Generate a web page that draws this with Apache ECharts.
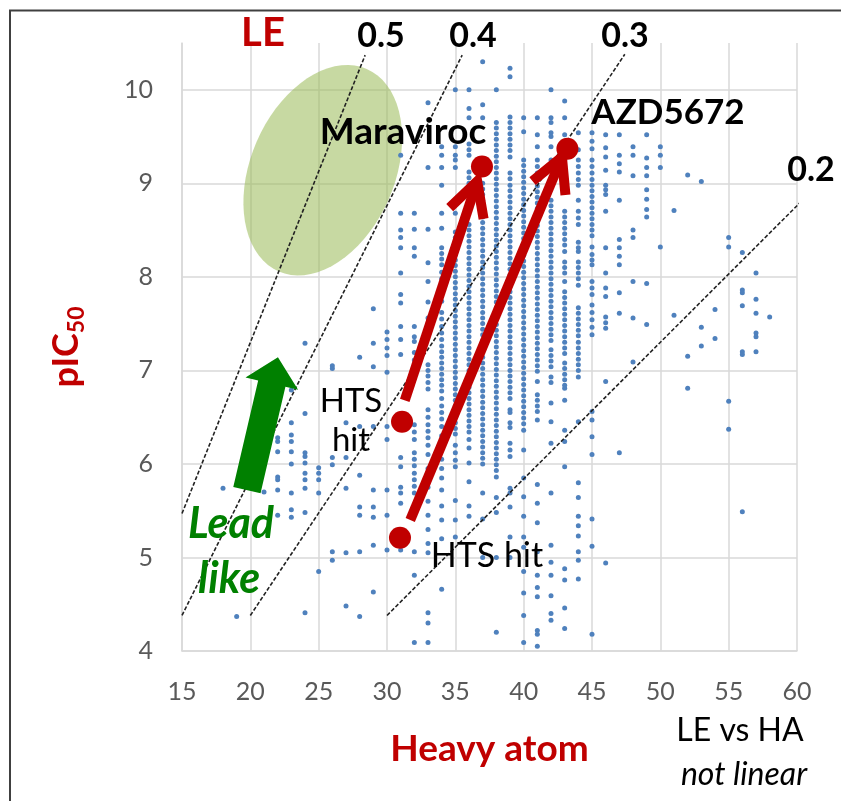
<!DOCTYPE html>
<html><head><meta charset="utf-8">
<script src="https://cdn.jsdelivr.net/npm/echarts@6/dist/echarts.min.js"></script>
<style>html,body{margin:0;padding:0;background:#fff}#c{width:841px;height:801px}</style>
</head><body><div id="c"></div>
<script>
const FONT = 'Lato, "Open Sans", sans-serif';

// Heavy atom count for each column of compounds
const heavyAtoms = [18,19,21,22,23,24,25,26,27,28,29,30,31,32,33,34,35,36,37,38,39,40,41,42,43,44,45,46,47,48,49,50,51,52,53,54,55,56,57,58];
// pIC50 values for each heavy-atom column (same order as heavyAtoms)
const pic50Columns = [
 [5.74],
 [4.37],
 [5.70],
 [6.28,6.24,6.13,5.86,5.83,5.72,5.45],
 [6.79,6.44,6.31,6.24,6.13,6.00,5.69,5.51,5.43],
 [7.29,6.54,6.12,6.08,6.01,5.90,5.83,5.74,5.48,4.41],
 [5.96,5.90,5.83,5.69,4.85],
 [7.05,7.02,6.07,5.99,5.06,4.97],
 [6.44,6.07,5.74,5.05,4.48],
 [7.14,6.40,5.88,5.54,5.45,5.06,4.37],
 [7.66,7.29,7.04,6.40,5.72,5.54,5.43,5.13,4.63],
 [7.41,7.33,7.24,7.16,6.98,6.40,6.26,5.72,5.45,5.08],
 [9.30,8.68,8.50,8.42,8.31,8.04,7.81,7.72,7.47,7.33,7.17,6.07,5.97,5.75,5.69,5.58,5.08],
 [8.68,8.51,8.31,8.22,7.47,7.36,7.31,7.19,7.11,6.42,6.34,6.26,6.12,6.05,5.98,5.90,5.83,5.76,5.69,5.06,4.81,4.09],
 [9.86,9.17,8.51,8.15,7.95,7.73,7.56,7.38,7.06,7.00,6.94,6.87,6.80,6.58,6.50,6.42,6.35,6.28,6.20,6.10,5.95,5.85,5.75,5.60,5.45,5.30,5.15,5.05,4.41,4.30,4.09],
 [9.39,9.30,9.17,8.98,8.68,8.52,8.31,8.25,8.19,8.13,8.05,7.98,7.92,7.86,7.80,7.74,7.62,7.55,7.47,7.40,7.33,7.26,7.20,7.14,7.08,7.02,6.96,6.90,6.84,6.78,6.70,6.62,6.55,6.48,6.40,6.30,6.22,6.15,6.05,5.95,5.85,5.72,5.55,5.40,5.20,4.66],
 [10.0,9.39,9.30,9.25,9.17,8.68,8.48,8.42,8.36,8.30,8.24,8.18,8.12,8.06,8.00,7.94,7.88,7.82,7.76,7.70,7.64,7.58,7.52,7.46,7.40,7.34,7.28,7.22,7.16,7.10,7.04,6.98,6.92,6.86,6.80,6.74,6.68,6.62,6.56,6.50,6.44,6.38,6.32,6.20,6.12,6.04,5.97,5.61,5.40,5.22],
 [10.0,9.80,9.70,9.42,9.36,9.30,9.12,9.06,9.00,8.94,8.56,8.50,8.44,8.38,8.32,8.26,8.20,8.14,8.08,8.02,7.96,7.90,7.84,7.78,7.72,7.66,7.60,7.54,7.48,7.42,7.36,7.30,7.24,7.18,7.12,7.06,7.00,6.94,6.88,6.82,6.76,6.70,6.64,6.58,6.52,6.46,6.40,6.34,6.26,6.17,6.01,5.81,5.55,5.44],
 [10.30,9.84,9.70,9.00,8.94,8.88,8.82,8.76,8.70,8.64,8.58,8.52,8.46,8.40,8.34,8.28,8.22,8.16,8.10,8.04,7.98,7.92,7.86,7.80,7.74,7.68,7.62,7.56,7.50,7.44,7.38,7.32,7.26,7.20,7.14,7.08,7.02,6.96,6.90,6.84,6.78,6.72,6.66,6.60,6.54,6.48,6.42,6.36,6.30,6.24,6.18,6.12,6.06,6.00,5.69,5.41,5.00],
 [10.0,9.65,9.59,9.53,9.47,9.41,9.35,9.29,9.23,9.17,9.11,9.05,8.99,8.93,8.87,8.81,8.75,8.69,8.63,8.57,8.51,8.45,8.39,8.33,8.27,8.21,8.15,8.09,8.03,7.97,7.91,7.85,7.79,7.73,7.67,7.61,7.55,7.49,7.43,7.37,7.31,7.25,7.19,7.13,7.07,7.01,6.95,6.89,6.83,6.77,6.71,6.65,6.59,6.53,6.47,6.41,6.35,6.29,6.23,6.17,6.11,6.05,5.99,5.93,5.86,5.64,5.48,5.00,4.20],
 [10.23,10.14,9.71,9.65,9.59,9.53,9.47,9.41,9.35,9.28,9.11,9.05,8.98,8.92,8.86,8.80,8.74,8.68,8.62,8.56,8.50,8.44,8.38,8.32,8.26,8.20,8.14,8.08,8.02,7.96,7.90,7.84,7.78,7.72,7.66,7.60,7.54,7.48,7.42,7.36,7.30,7.24,7.18,7.12,7.06,7.00,6.94,6.88,6.82,6.76,6.70,6.58,6.55,6.44,6.39,6.22,6.15,6.08,5.74,5.69,5.54,5.22,5.00],
 [9.70,9.55,9.25,9.19,9.13,9.07,9.01,8.95,8.89,8.83,8.77,8.71,8.65,8.59,8.53,8.47,8.41,8.35,8.29,8.23,8.17,8.11,8.05,7.99,7.93,7.87,7.81,7.75,7.69,7.63,7.57,7.51,7.45,7.39,7.33,7.27,7.21,7.15,7.09,7.03,6.97,6.91,6.85,6.79,6.73,6.67,6.61,6.55,6.49,6.43,6.36,6.15,5.85,5.65,5.44,5.22,5.11,4.85,4.62,4.38,4.09],
 [9.70,9.52,9.39,9.25,9.18,9.11,9.04,8.97,8.91,8.85,8.79,8.73,8.67,8.61,8.55,8.49,8.43,8.37,8.31,8.25,8.19,8.13,8.07,8.01,7.95,7.89,7.83,7.77,7.71,7.65,7.59,7.53,7.47,7.41,7.35,7.29,7.23,7.17,7.11,7.05,6.99,6.88,6.74,6.68,6.62,6.56,6.47,5.78,5.58,5.37,5.06,4.81,4.68,4.58,4.22,4.18,4.05],
 [10.0,9.70,9.65,9.54,9.50,9.39,9.25,9.18,9.05,8.82,8.76,8.70,8.64,8.58,8.52,8.46,8.40,8.34,8.28,8.22,8.16,8.10,8.04,7.98,7.92,7.86,7.80,7.74,7.68,7.62,7.56,7.50,7.44,7.38,7.32,7.22,7.16,7.10,7.04,6.93,6.87,6.65,6.45,6.22,5.69,5.13,4.95,4.81,4.59,4.40,4.33],
 [9.88,9.70,9.52,9.45,9.32,9.25,9.18,9.11,9.04,8.98,8.70,8.64,8.58,8.52,8.46,8.40,8.34,8.27,8.16,8.10,8.04,7.95,7.84,7.78,7.72,7.66,7.60,7.54,7.48,7.42,7.36,7.30,7.24,7.18,7.08,7.02,6.96,6.90,6.84,6.81,6.68,6.36,6.24,5.97,4.88,4.76,4.46,4.24],
 [9.54,9.36,9.25,9.18,9.11,9.04,8.98,8.82,8.70,8.63,8.56,8.37,8.31,8.27,8.16,8.10,8.04,7.98,7.91,7.67,7.61,7.55,7.49,7.43,7.37,7.30,7.24,7.18,7.12,7.06,7.00,6.93,6.45,5.80,5.64,5.44,5.34,5.23,5.06,4.97,4.77],
 [9.54,9.45,9.37,9.25,9.18,9.11,9.04,8.98,8.92,8.86,8.80,8.74,8.68,8.62,8.56,8.50,8.44,8.32,8.24,8.18,8.13,7.95,7.88,7.81,7.70,7.62,7.54,7.46,7.38,6.56,6.47,6.29,6.10,5.41,5.12,4.18],
 [9.52,9.38,9.28,9.14,8.98,8.93,8.88,8.70,8.31,8.04,7.88,7.79,7.57,7.51,7.45,6.88,4.94],
 [9.52,9.30,9.21,9.12,8.82,8.40,8.31,8.22,8.13,7.83,7.61,6.12],
 [9.39,9.30,9.08,8.50,8.42,7.95,7.56,7.09],
 [9.52,9.27,9.17,9.08,8.93,8.83,8.72,8.64,7.93,7.49],
 [9.39,9.30,9.17,8.32],
 [8.71,7.59],
 [9.09,7.15,6.81],
 [9.02,7.46,7.26],
 [7.65,7.34],
 [8.42,8.32,6.67,6.37],
 [8.26,7.86,7.83,7.69,7.20,7.17,5.49],
 [8.04,7.76,7.61,7.40,7.36,7.20],
 [7.57]
];

// Ligand-efficiency iso-lines (start / end points)
const leLabels = ['0.5','0.4','0.3','0.2'];
const leStart = [[15,5.47],[15,4.38],[20,4.38],[30,4.38]];
const leEnd = [[28.4,10.37],[35.5,10.37],[47.4,10.38],[61.3,8.95]];

// Highlighted compounds: HTS hits and optimised drugs
const hitPoints = [[31.1,6.45],[30.95,5.21]];
const drugPoints = [[36.95,9.18],[43.2,9.37]];
const drugNames = ['Maraviroc','AZD5672'];
// Optimisation arrows: [startHA, startPIC, tipHA, tipPIC]
const optimArrows = [[31.3,6.68,36.6,9.02],[31.7,5.40,42.8,9.28]];
// "Lead like" region (centre HA, centre pIC50, half-width HA units, half-height pIC50 units, tilt deg)
const leadLikeRegion = [[25.3,9.14,5.27,1.18,23.5]];
// Green arrow: [baseHA, basePIC, tipHA, tipPIC]
const leadArrow = [[19.75,5.72,22.02,7.14]];

const scatterData = [];
heavyAtoms.forEach((ha,i)=>pic50Columns[i].forEach(v=>scatterData.push([ha,v])));

const RED = '#C00000', GREEN = '#008000', GRID = '#d9d9d9';

const chart = echarts.init(document.getElementById('c'), null, {renderer:'canvas'});

function txt(text, x, y, size, color, weight, style){
  return {type:'text', x, y, z:100, style:{text, fill:color||'#000', fontSize:size, fontWeight:weight||'normal', fontStyle:style||'normal', fontFamily:FONT, align:'center', verticalAlign:'middle', textAlign:'center', textVerticalAlign:'middle'}};
}

const option = {
  animation:false,
  backgroundColor:'#fff',
  grid:{left:182, right:44, top:43, bottom:150, containLabel:false},
  xAxis:{type:'value', min:15, max:60, interval:5,
    name:'Heavy atom', nameLocation:'middle', nameGap:80,
    nameTextStyle:{color:RED, fontWeight:'bold', fontSize:37, fontFamily:FONT},
    axisLine:{show:true, lineStyle:{color:GRID, width:1.5}}, axisTick:{show:false},
    axisLabel:{color:'#595959', fontSize:25, fontFamily:FONT, margin:28},
    splitLine:{show:true, lineStyle:{color:GRID, width:1.5}}},
  yAxis:{type:'value', min:4, max:10.5, interval:1,
    name:'{a|pIC}{b|50}', nameLocation:'middle', nameGap:98, nameRotate:90,
    nameTextStyle:{rich:{a:{color:RED, fontWeight:'bold', fontSize:36, fontFamily:FONT, verticalAlign:'bottom'},
                         b:{color:RED, fontWeight:'bold', fontSize:23, fontFamily:FONT, verticalAlign:'bottom', padding:[0,0,-4,0]}}},
    axisLine:{show:true, lineStyle:{color:GRID, width:1.5}}, axisTick:{show:false},
    axisLabel:{color:'#595959', fontSize:25, fontFamily:FONT, margin:29, showMaxLabel:false,
      formatter:v=> (v>10.01 ? '' : String(v))},
    splitLine:{show:true, showMaxLine:false, lineStyle:{color:GRID, width:1.5}}},
  series:[
    {type:'custom', name:'lead-like region', z:1, silent:true, clip:false,
     renderItem:(params, api)=>{
       const c = api.coord([api.value(0), api.value(1)]);
       const rx = api.size([api.value(2),0])[0];
       const ry = api.size([0,api.value(3)])[1];
       const t = api.value(4)*Math.PI/180;
       const pts = [];
       for(let k=0;k<72;k++){
         const a = k/72*2*Math.PI;
         const ex = rx*Math.cos(a), ey = ry*Math.sin(a);
         pts.push([c[0] + ex*Math.cos(t) - ey*Math.sin(t), c[1] + ex*Math.sin(t) + ey*Math.cos(t)]);
       }
       return {type:'polygon', shape:{points:pts}, style:{fill:'rgba(155,187,89,0.56)'}};
     },
     data:leadLikeRegion},
    {type:'scatter', name:'compounds', z:2, symbol:'circle', symbolSize:5,
     itemStyle:{color:'#4F81BD', opacity:1}, data:scatterData},
    ...leLabels.map((lab,i)=>({type:'line', name:'LE '+lab, z:3, clip:false, symbol:'none',
      lineStyle:{color:'#222', width:1.6, type:[4,2]}, data:[leStart[i], leEnd[i]]})),
    {type:'custom', name:'lead arrow', z:4, clip:false, silent:true,
     renderItem:(params, api)=>{
       const b = api.coord([api.value(0), api.value(1)]);
       const t = api.coord([api.value(2), api.value(3)]);
       const dx=t[0]-b[0], dy=t[1]-b[1], L=Math.hypot(dx,dy);
       const ux=dx/L, uy=dy/L, nx=-uy, ny=ux;
       const hw=14, hh=27, hl=27;
       const h=[t[0]-ux*hl, t[1]-uy*hl];
       const P=(p,s)=>[p[0]+nx*s, p[1]+ny*s];
       return {type:'polygon', shape:{points:[P(b,-hw),P(b,hw),P(h,hw),P(h,hh),t,P(h,-hh),P(h,-hw)]}, style:{fill:GREEN}};
     },
     data:leadArrow},
    {type:'custom', name:'optimisation', z:5, clip:false, silent:true,
     renderItem:(params, api)=>{
       const s = api.coord([api.value(0), api.value(1)]);
       const t = api.coord([api.value(2), api.value(3)]);
       const dx=t[0]-s[0], dy=t[1]-s[1], L=Math.hypot(dx,dy);
       const ux=dx/L, uy=dy/L;
       const wl=38, ang=28*Math.PI/180;
       const w1=[t[0]-wl*(ux*Math.cos(ang)-uy*Math.sin(ang)), t[1]-wl*(uy*Math.cos(ang)+ux*Math.sin(ang))];
       const w2=[t[0]-wl*(ux*Math.cos(ang)+uy*Math.sin(ang)), t[1]-wl*(uy*Math.cos(ang)-ux*Math.sin(ang))];
       return {type:'group', children:[
         {type:'line', shape:{x1:s[0],y1:s[1],x2:t[0],y2:t[1]}, style:{stroke:RED, lineWidth:10, lineCap:'butt'}},
         {type:'polyline', shape:{points:[w1,t,w2]}, style:{stroke:RED, lineWidth:10, lineCap:'butt', lineJoin:'miter', fill:null}}
       ]};
     },
     data:optimArrows},
    {type:'scatter', name:'key compounds', z:6, symbol:'circle', symbolSize:22,
     itemStyle:{color:RED, opacity:1}, data:hitPoints.concat(drugPoints)}
  ],
  graphic:[
    {type:'polyline', z:100, shape:{points:[[10,801],[10,10.5],[841,10.5]]}, style:{stroke:'#404040', lineWidth:2, fill:null}},
    txt('LE', 263, 33, 40, RED, 'bold'),
    txt(leLabels[0], 381, 36, 34, '#000', 'bold'),
    txt(leLabels[1], 473, 36, 34, '#000', 'bold'),
    txt(leLabels[2], 625, 36, 34, '#000', 'bold'),
    txt(leLabels[3], 811, 170, 34, '#000', 'bold'),
    txt(drugNames[0], 403, 132, 37, '#000', 'bold'),
    txt(drugNames[1], 668, 113, 35, '#000', 'bold'),
    txt('HTS', 351, 401, 33, '#000'),
    txt('hit', 351, 440, 33, '#000'),
    txt('HTS hit', 487, 556, 34, '#000'),
    txt('Lead', 231, 524, 43, GREEN, 'bold', 'italic'),
    txt('like', 229, 579, 43, GREEN, 'bold', 'italic'),
    txt('LE vs HA', 740, 731, 32, '#000'),
    txt('not linear', 744, 775, 32, '#000', 'normal', 'italic')
  ]
};
chart.setOption(option);
</script></body></html>
